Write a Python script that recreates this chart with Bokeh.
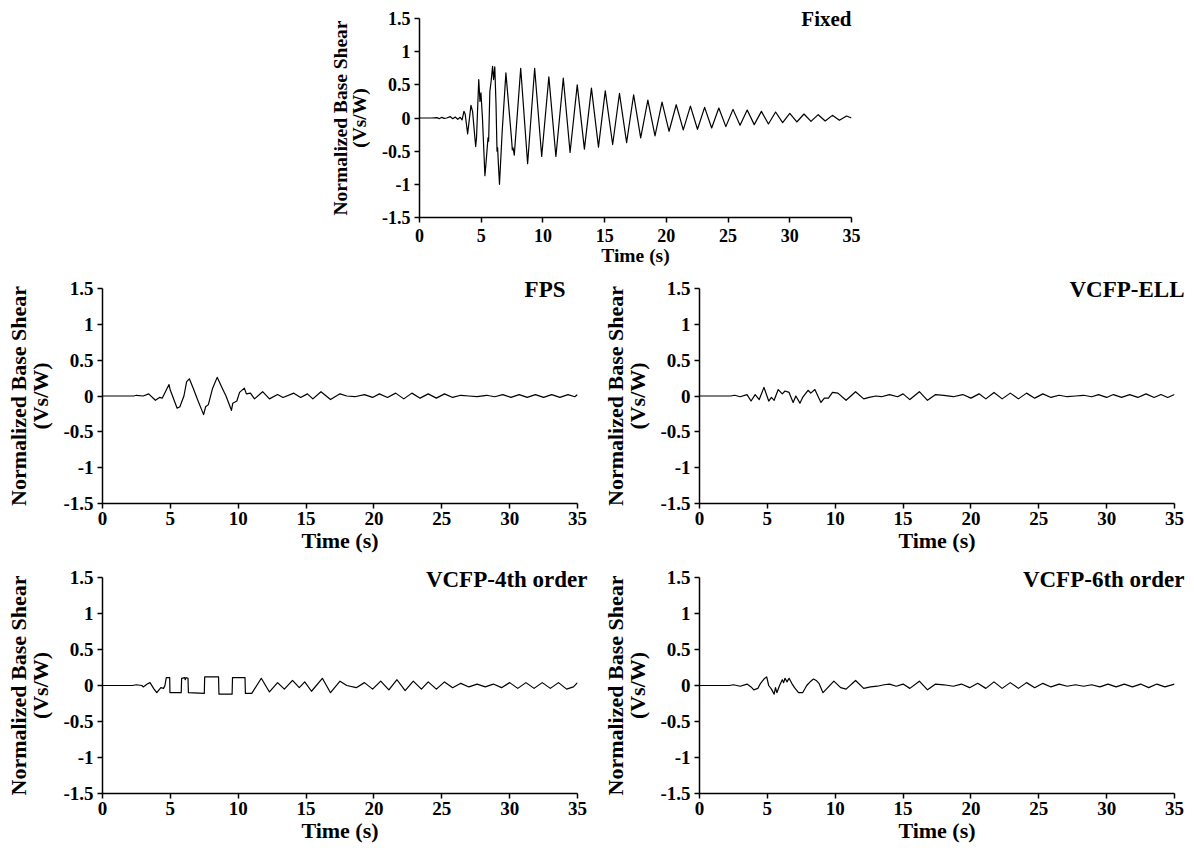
from bokeh.plotting import figure
from bokeh.models import Range1d, FixedTicker, Spacer
from bokeh.layouts import column, row
from bokeh.embed import file_html
from bokeh.resources import INLINE

# ---------------- data ----------------
x_ticks = [0, 5, 10, 15, 20, 25, 30, 35]
y_ticks = [-1.5, -1, -0.5, 0, 0.5, 1, 1.5]
y_tick_labels = ["-1.5", "-1", "-0.5", "0", "0.5", "1", "1.5"]

fixed_t = [0, 1.0, 1.4, 1.6, 1.8, 2.0, 2.2, 2.5, 2.7, 2.9, 3.1, 3.3, 3.45, 3.6, 3.7,
           3.9, 4.17, 4.3, 4.55, 4.62, 4.8, 4.9, 4.98, 5.1, 5.3, 5.38, 5.55, 5.6,
           5.7, 5.8, 5.92, 6.0, 6.1, 6.2, 6.28, 6.33, 6.38, 6.48, 6.7, 7.0, 7.45,
           7.52, 7.58, 7.68, 8.2, 8.76, 9.33, 9.9, 10.48, 11.05, 11.65, 12.2, 12.78,
           13.36, 13.93, 14.5, 15.05, 15.65, 16.2, 16.78, 17.35, 17.92, 18.5, 19.08,
           19.65, 20.22, 20.8, 21.37, 21.95, 22.52, 23.1, 23.67, 24.25, 24.82, 25.4,
           25.97, 26.55, 27.12, 27.7, 28.27, 28.85, 29.42, 30.0, 30.57, 31.15, 31.72,
           32.3, 32.87, 33.45, 34.02, 34.6, 35.0]
fixed_v = [0, 0, 0.005, -0.01, 0.01, -0.005, 0.0, 0.02, -0.01, 0.015, -0.02, 0.01, -0.03, 0.1, 0.06,
           -0.24, 0.19, 0.1, -0.43, -0.3, 0.58, 0.25, 0.38, 0.0, -0.87, -0.7, -0.3, -0.35,
           0.4, 0.55, 0.78, 0.58, 0.77, 0.2, -0.5, -0.45, -0.65, -1.0, -0.2, 0.68, -0.3,
           -0.48, -0.45, -0.56, 0.75, -0.69, 0.75, -0.58, 0.62, -0.58, 0.6, -0.52, 0.5,
           -0.47, 0.45, -0.44, 0.41, -0.4, 0.37, -0.37, 0.35, -0.3, 0.27, -0.27,
           0.24, -0.2, 0.2, -0.18, 0.18, -0.17, 0.16, -0.15, 0.15, -0.13, 0.13,
           -0.11, 0.12, -0.1, 0.1, -0.09, 0.09, -0.07, 0.07, -0.06, 0.06, -0.05,
           0.05, -0.045, 0.04, -0.035, 0.03, 0.0]

fps_t = [0, 2.3, 2.5, 3.0, 3.4, 3.9, 4.2, 4.4, 4.9, 5.0, 5.5, 5.7, 6.0, 6.2, 6.4, 6.7,
         7.0, 7.45, 7.6, 7.8, 8.1, 8.45, 8.8, 9.1, 9.5, 9.6, 9.9, 10.1, 10.45, 10.6,
         10.9, 11.2, 11.8, 12.3, 12.9, 13.3, 14.1, 14.6, 15.1, 15.5, 16.1, 16.8, 17.5,
         18.0, 18.6, 19.3, 19.9, 20.4, 21.0, 21.6, 22.2, 22.8, 23.4, 24.0, 24.6, 25.2,
         25.8, 26.4, 27.0, 27.6, 28.3, 28.9, 29.5, 30.1, 30.7, 31.3, 31.9, 32.5, 33.1,
         33.7, 34.3, 34.8, 35.0]
fps_v = [0, 0, 0.01, 0.0, 0.03, -0.06, -0.02, -0.03, 0.16, 0.08, -0.17, -0.15, 0.0, 0.2, 0.24, 0.1,
         -0.05, -0.26, -0.15, -0.12, 0.1, 0.26, 0.12, 0.0, -0.2, -0.1, -0.07, 0.05, 0.11, 0.03,
         0.04, -0.04, 0.06, -0.04, 0.02, -0.02, 0.04, -0.02, 0.03, -0.04, 0.06, -0.05, 0.03,
         0.0, -0.01, 0.02, -0.02, 0.03, -0.02, 0.04, -0.04, 0.04, -0.03, 0.03, -0.03, 0.03,
         -0.02, 0.01, 0.0, -0.01, 0.01, -0.01, 0.02, -0.02, 0.02, -0.02, 0.02, -0.02, 0.02,
         -0.02, 0.02, -0.01, 0.02]

ell_t = [0, 2.3, 2.6, 3.0, 3.5, 3.8, 4.1, 4.4, 4.75, 5.1, 5.3, 5.5, 5.8, 6.1, 6.3, 6.6,
         6.9, 7.1, 7.4, 7.6, 8.0, 8.2, 8.5, 8.8, 8.95, 9.2, 9.5, 9.8, 10.2, 10.8, 11.5,
         12.1, 12.5, 13.0, 13.4, 14.0, 14.6, 15.0, 15.5, 16.2, 16.8, 17.4, 18.0, 18.7,
         19.4, 20.0, 20.6, 21.1, 21.7, 22.3, 22.9, 23.5, 24.1, 24.7, 25.3, 25.9, 26.5,
         27.1, 27.7, 28.3, 28.9, 29.4, 30.0, 30.5, 31.1, 31.7, 32.3, 32.9, 33.5, 34.0,
         34.5, 35.0]
ell_v = [0, 0, 0.01, -0.01, 0.02, -0.07, 0.02, -0.05, 0.12, -0.07, -0.02, -0.06, 0.09, 0.03, 0.07, 0.05,
         -0.09, 0.0, -0.1, -0.02, 0.08, 0.04, 0.09, -0.03, -0.09, -0.03, -0.03, 0.05, 0.04, -0.06, 0.06,
         -0.04, -0.02, 0.0, -0.01, 0.02, -0.01, 0.03, -0.05, 0.06, -0.06, 0.02, 0.01, -0.01,
         0.02, -0.03, 0.03, -0.04, 0.05, -0.04, 0.04, -0.04, 0.04, -0.03, 0.03, -0.02, 0.01,
         -0.01, 0.0, 0.01, -0.01, 0.02, -0.02, 0.02, -0.02, 0.02, -0.02, 0.03, -0.02, 0.02,
         -0.02, 0.02]

o4_t = [0, 2.2, 2.5, 2.9, 3.0, 3.3, 3.5, 3.8, 4.0, 4.3, 4.5, 4.6, 4.7, 4.95, 4.97, 5.8,
        5.83, 6.05, 6.1, 6.15, 6.3, 6.33, 7.5, 7.53, 8.55, 8.58, 9.55, 9.58, 10.5, 10.53,
        11.0, 11.7, 12.3, 12.9, 13.4, 14.0, 14.5, 14.9, 15.4, 16.2, 16.8, 17.5, 18.0,
        18.7, 19.3, 19.9, 20.5, 21.1, 21.7, 22.3, 22.9, 23.5, 24.0, 24.6, 25.2, 25.8,
        26.4, 27.0, 27.6, 28.2, 28.8, 29.4, 30.0, 30.6, 31.2, 31.8, 32.4, 33.0, 33.6,
        34.2, 34.7, 35.0]
o4_v = [0, 0, 0.01, 0.0, -0.02, 0.02, 0.04, -0.05, -0.1, -0.03, -0.04, 0.0, 0.11, 0.11, -0.1, -0.1,
        0.1, 0.11, 0.08, 0.11, 0.1, -0.1, -0.11, 0.12, 0.12, -0.12, -0.12, 0.11, 0.11, -0.11,
        -0.11, 0.1, -0.09, 0.04, -0.05, 0.07, -0.03, 0.05, -0.08, 0.1, -0.1, 0.06, 0.0,
        -0.03, 0.04, -0.05, 0.06, -0.06, 0.08, -0.07, 0.06, -0.05, 0.05, -0.05, 0.05, -0.03,
        0.03, -0.02, 0.02, -0.02, 0.02, -0.03, 0.04, -0.04, 0.04, -0.04, 0.04, -0.04, 0.04,
        -0.05, -0.02, 0.04]

o6_t = [0, 2.2, 2.5, 3.0, 3.5, 3.8, 4.0, 4.3, 4.5, 4.75, 4.95, 5.1, 5.3, 5.5, 5.6, 5.7,
        5.9, 6.1, 6.2, 6.3, 6.45, 6.6, 6.8, 7.0, 7.3, 7.6, 7.9, 8.2, 8.4, 8.6, 8.8, 9.1,
        9.4, 9.9, 10.4, 10.8, 11.5, 12.1, 12.6, 13.1, 13.6, 14.0, 14.5, 15.0, 15.5, 16.2,
        16.8, 17.4, 18.0, 18.7, 19.3, 19.9, 20.5, 21.1, 21.7, 22.3, 22.9, 23.5, 24.1,
        24.7, 25.3, 25.9, 26.5, 27.1, 27.7, 28.3, 28.9, 29.5, 30.1, 30.7, 31.3, 31.9,
        32.5, 33.1, 33.7, 34.3, 35.0]
o6_v = [0, 0, 0.01, -0.01, 0.02, -0.02, -0.06, -0.04, 0.03, 0.09, 0.12, 0.0, -0.05, -0.12, -0.03, -0.1,
        0.0, 0.08, 0.04, 0.1, 0.05, 0.1, 0.03, -0.03, -0.1, -0.1, 0.0, 0.06, 0.09, 0.07, 0.03, -0.1,
        -0.04, 0.06, -0.03, -0.05, 0.07, -0.04, -0.02, -0.01, 0.01, 0.02, -0.01, 0.02, -0.04, 0.06,
        -0.06, 0.02, 0.01, -0.01, 0.02, -0.03, 0.03, -0.04, 0.05, -0.04, 0.04, -0.04, 0.04,
        -0.03, 0.03, -0.02, 0.02, -0.01, 0.01, -0.01, 0.01, -0.02, 0.02, -0.02, 0.02, -0.02,
        0.02, -0.03, 0.02, -0.02, 0.02]

FONT = "Liberation Serif"


def panel(t, v, name, fw, fh, left, right, top, bottom, tick_fs, lab_fs, title_fs,
          title_standoff, title_dx, x_lab_so, x_axlab_so, y_axlab_so):
    p = figure(frame_width=fw, frame_height=fh, x_range=Range1d(0, 35),
               y_range=Range1d(-1.5, 1.5), output_backend="svg", toolbar_location=None,
               min_border_left=left, min_border_right=right, min_border_top=top,
               min_border_bottom=bottom, background_fill_color="white",
               border_fill_color="white")
    p.line(t, v, line_color="black", line_width=1.2, line_join="round")
    p.xgrid.visible = False
    p.ygrid.visible = False
    p.outline_line_color = None
    p.xaxis.ticker = FixedTicker(ticks=x_ticks)
    p.yaxis.ticker = FixedTicker(ticks=y_ticks)
    p.yaxis.major_label_overrides = {k: s for k, s in zip(y_ticks, y_tick_labels)}
    for ax in (p.xaxis[0], p.yaxis[0]):
        ax.axis_line_color = "black"
        ax.axis_line_width = 1.5
        ax.major_tick_line_color = "black"
        ax.major_tick_line_width = 1.5
        ax.major_tick_out = 5
        ax.major_tick_in = 0
        ax.minor_tick_out = 0
        ax.minor_tick_in = 0
        ax.major_label_text_font = FONT
        ax.major_label_text_font_style = "bold"
        ax.major_label_text_font_size = tick_fs
        ax.major_label_text_color = "black"
        ax.axis_label_text_font = FONT
        ax.axis_label_text_font_style = "bold"
        ax.axis_label_text_font_size = lab_fs
        ax.axis_label_text_color = "black"
    p.xaxis.axis_label = "Time (s)"
    p.xaxis.major_label_standoff = x_lab_so
    p.xaxis.axis_label_standoff = x_axlab_so
    p.yaxis.axis_label = "Normalized Base Shear\n(Vs/W)"
    p.yaxis.axis_label_text_line_height = 0.9
    p.yaxis.major_label_standoff = 4
    p.yaxis.axis_label_standoff = y_axlab_so
    p.title.text = name
    p.title.align = "right"
    p.title.offset = title_dx
    p.title.standoff = title_standoff
    p.title.text_font = FONT
    p.title.text_font_style = "bold"
    p.title.text_font_size = title_fs
    p.title.text_color = "black"
    return p


p_fixed = panel(fixed_t, fixed_v, "Fixed", 432, 199, 100, 30, 18, 58,
                "18px", "19.5px", "21px", -24, 0, 6, 0, 9)
p_fps = panel(fps_t, fps_v, "FPS", 475, 215, 102, 20, 13, 52,
              "19px", "22px", "23px", -26, 12, 3, 0, 7)
p_ell = panel(ell_t, ell_v, "VCFP-ELL", 475, 215, 102, 16, 13, 52,
              "19px", "22px", "23px", -26, -10, 3, 0, 7)
p_o4 = panel(o4_t, o4_v, "VCFP-4th order", 475, 216, 102, 20, 22, 55,
             "19px", "22px", "23px", -28, -10, 3, 0, 7)
p_o6 = panel(o6_t, o6_v, "VCFP-6th order", 475, 216, 102, 16, 22, 55,
             "19px", "22px", "23px", -28, -10, 3, 0, 7)

layout = column(
    row(Spacer(width=319, height=275), p_fixed),
    row(p_fps, p_ell),
    row(p_o4, p_o6),
)

open("out.html", "w").write(file_html(layout, INLINE))
